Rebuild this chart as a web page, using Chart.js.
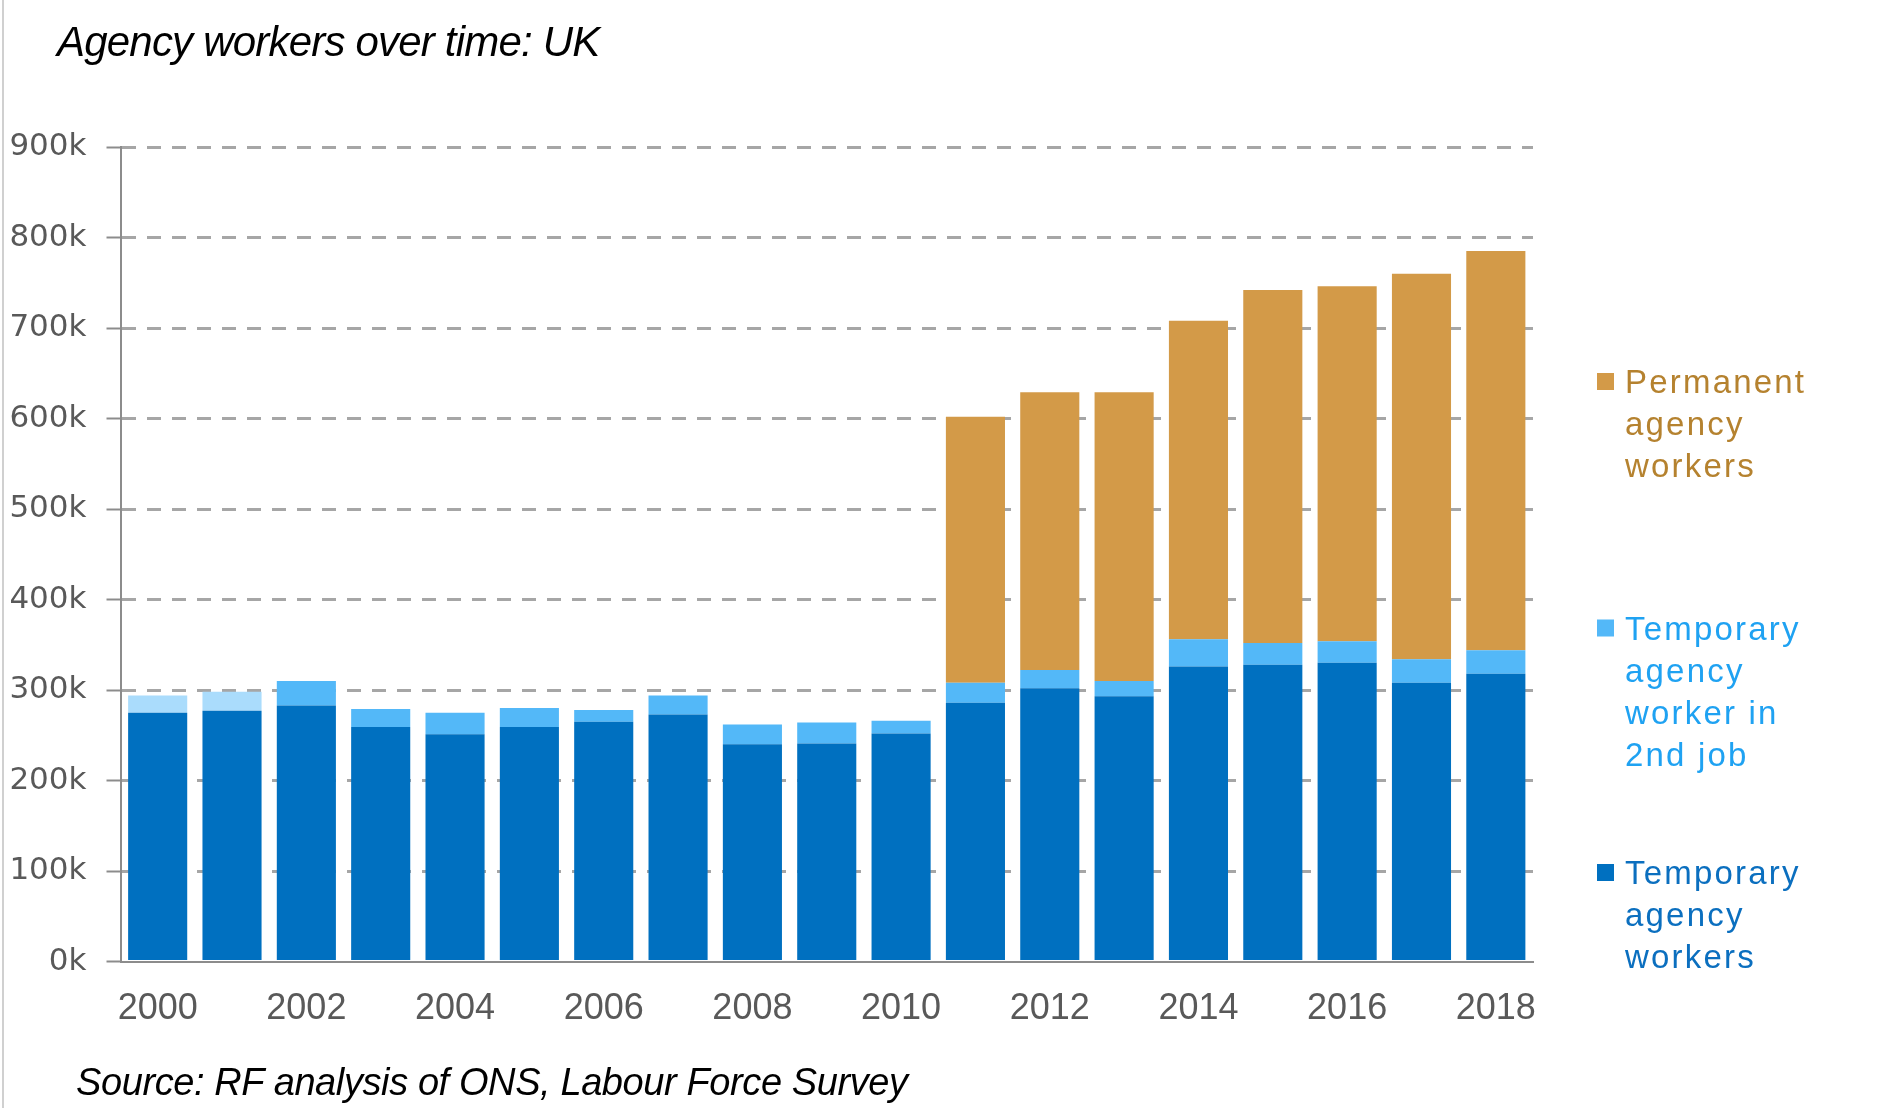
<!DOCTYPE html>
<html>
<head>
<meta charset="utf-8">
<script src="https://cdn.jsdelivr.net/npm/chart.js@4.4.1/dist/chart.umd.min.js"></script>
<style>
  html, body { margin: 0; padding: 0; background: #fff; }
  #wrap { position: relative; width: 1888px; height: 1108px; overflow: hidden; }
  #chart { position: absolute; left: 0; top: 0; }
  #edge { position: absolute; left: 2px; top: 0; height: 1108px; border-left: 2px solid #d0d0d0; }
  .note { position: absolute; font-family: "Liberation Sans", Arial, sans-serif; font-style: italic; color: #000; line-height: 1; white-space: nowrap; }
  #title { left: 57px; top: 21px; font-size: 42px; letter-spacing: -0.8px; }
  #source { left: 76px; top: 1063px; font-size: 38px; letter-spacing: -0.4px; }
</style>
</head>
<body>
<div id="wrap">
  <canvas id="chart" width="1888" height="1108"></canvas>
  <div id="edge"></div>
  <div class="note" id="title">Agency workers over time: UK</div>
  <div class="note" id="source">Source: RF analysis of ONS, Labour Force Survey</div>
</div>
<script>
// thousands of workers
var years = ['2000', '2001', '2002', '2003', '2004', '2005', '2006', '2007', '2008', '2009',
             '2010', '2011', '2012', '2013', '2014', '2015', '2016', '2017', '2018'];
var temp_workers = [275, 277, 283, 259, 251, 259, 265, 273, 240, 241, 252, 286, 302, 293, 326, 328, 330, 308, 318];
var second_job = [19, 21, 27, 20, 24, 21, 13, 21, 22, 23, 14, 22, 20, 17, 30, 24, 24, 26, 26];
var permanent = [null, null, null, null, null, null, null, null, null, null, null, 294, 307, 319, 352, 390, 392, 426, 441];
// second job figures shown paler for these years
var pale_years = ['2000', '2001'];

var series_names = ['Temporary agency workers', 'Temporary agency worker in 2nd job', 'Permanent agency workers'];
var legend_lines = [
    ['Temporary', 'agency', 'workers'],
    ['Temporary', 'agency', 'worker in', '2nd job'],
    ['Permanent', 'agency', 'workers']
];
var y_max = 900;
var y_step = 100;

var colors = {
    temp: '#0070c0',
    second: '#53b8f8',
    second_pale: '#aadcfc',
    perm: '#d39a48'
};
var legend_text = ['#0b6fbf', '#1fa2f2', '#b5822f'];

// legend on the right, drawn on the canvas
var sideLegend = {
    id: 'sideLegend',
    afterDraw: function (chart) {
        var ctx = chart.ctx;
        var baselines = [884, 639.5, 393];
        ctx.save();
        ctx.font = '33px "Liberation Sans", Arial, sans-serif';
        ctx.letterSpacing = '2.2px';
        ctx.textBaseline = 'alphabetic';
        chart.data.datasets.forEach(function (ds, i) {
            var y = baselines[i];
            ctx.fillStyle = ds.legendColor;
            ctx.fillRect(1597, y - 20, 17, 17);
            ctx.fillStyle = legend_text[i];
            legend_lines[i].forEach(function (line, j) {
                ctx.fillText(line, 1625, y + j * 42);
            });
        });
        ctx.restore();
    }
};

var chart = new Chart(document.getElementById('chart'), {
    type: 'bar',
    data: {
        labels: years,
        datasets: [
            {
                label: series_names[0],
                data: temp_workers,
                backgroundColor: colors.temp,
                legendColor: colors.temp
            },
            {
                label: series_names[1],
                data: second_job,
                backgroundColor: function (c) {
                    return pale_years.indexOf(years[c.dataIndex]) >= 0 ? colors.second_pale : colors.second;
                },
                legendColor: colors.second
            },
            {
                label: series_names[2],
                data: permanent,
                backgroundColor: colors.perm,
                legendColor: colors.perm
            }
        ]
    },
    options: {
        responsive: false,
        animation: false,
        layout: { padding: { left: 0, right: 355, top: 147, bottom: 86.5 } },
        datasets: { bar: { barPercentage: 0.795, categoryPercentage: 1 } },
        plugins: {
            legend: { display: false },
            tooltip: { enabled: false },
            title: { display: false }
        },
        scales: {
            x: {
                stacked: true,
                afterFit: function (s) { s.height = 60; },
                grid: { display: false, drawTicks: false },
                border: { display: true, color: '#8c8c8c', width: 2 },
                ticks: {
                    autoSkip: false,
                    maxRotation: 0,
                    padding: 26,
                    color: '#595959',
                    font: { family: '"Liberation Sans", Arial, sans-serif', size: 36 },
                    callback: function (v, i) { return i % 2 === 0 ? this.getLabelForValue(v) : ''; }
                }
            },
            y: {
                stacked: true,
                min: 0,
                max: y_max,
                afterFit: function (s) { s.width = 120.5; },
                grid: {
                    color: function (c) { return c.tick && c.tick.value === 0 ? 'rgba(0,0,0,0)' : '#a6a6a6'; },
                    lineWidth: 3,
                    tickLength: 14,
                    tickColor: '#8c8c8c',
                    tickWidth: 2
                },
                border: { display: true, color: '#8c8c8c', width: 2, dash: [14, 11] },
                ticks: {
                    stepSize: y_step,
                    padding: 20,
                    color: '#595959',
                    font: { family: '"DejaVu Sans", sans-serif', size: 31 },
                    callback: function (v) { return v + 'k'; }
                }
            }
        }
    },
    plugins: [sideLegend]
});
</script>
</body>
</html>
